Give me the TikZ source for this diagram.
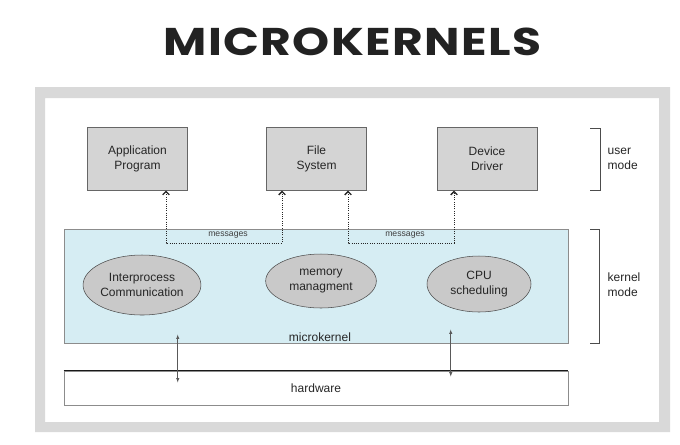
\documentclass[tikz,border=0pt]{standalone}
\usepackage{fontspec}
\setmainfont{Liberation Sans}
\newfontfamily\titlefont{Poppins}[LetterSpace=3]
\usetikzlibrary{arrows.meta,positioning,calc,shapes.geometric}

\definecolor{framegray}{HTML}{D9D9D9}
\definecolor{boxgray}{HTML}{D4D4D4}
\definecolor{ellgray}{HTML}{C9C9C9}
\definecolor{kernelblue}{HTML}{D6EDF3}
\definecolor{titleink}{HTML}{222222}

\begin{document}
\begin{tikzpicture}[x=0.75pt,y=-0.75pt,
    txt/.style={font=\fontsize{9pt}{11pt}\selectfont,align=center,text=black!85},
    userbox/.style={txt,draw=black!60,fill=boxgray,inner sep=0pt,minimum width=75pt,minimum height=47pt},
    service/.style={txt,ellipse,draw=black!70,fill=ellgray,inner sep=0pt},
    msg/.style={densely dotted,black!85,line width=.7pt,{Straight Barb[length=2.5pt,width=5pt,line width=1pt]}-{Straight Barb[length=2.5pt,width=5pt,line width=1pt]}},
    msglbl/.style={font=\fontsize{6.5pt}{7pt}\selectfont,text=black!75},
    hwarrow/.style={black!65,line width=.6pt,{Latex[length=3.5pt,width=2.5pt]}-{Latex[length=3.5pt,width=2.5pt]}},
    modebrace/.style={black!70,line width=.6pt},
    modelbl/.style={txt,align=left,anchor=west}]

        \useasboundingbox (0,0) rectangle (680,444);
        \fill[white] (0,0) rectangle (680,444);

        \node[anchor=base,text=titleink,xscale=1.22,transform shape,font=\titlefont\bfseries\fontsize{29pt}{30pt}\selectfont] (title) at (352.5,55) {MICROKERNELS};

        \fill[framegray,even odd rule] (35,87) rectangle (670,432) (45,98) rectangle (659,422);

        \node[userbox] (app) at (137.5,159) {Application\\Program};
        \node[userbox] (fs) at (316.5,159) {File\\System};
        \node[userbox] (dev) at (487,159) {Device\\Driver};

        \node[txt,draw=black!45,fill=kernelblue,minimum width=378pt,minimum height=85.5pt,inner sep=0pt] (micro) at (316,286) {};
        \node[txt,draw=black!45,fill=white,minimum width=378pt,minimum height=25.5pt,inner sep=0pt] (hw) at (316,388) {hardware};
        \draw[black!90] (hw.north west) -- (hw.north east);

        \node[service,minimum width=82.5pt,minimum height=45pt] (ipc) at (142,285) {Interprocess\\Communication};
        \node[service,minimum width=83pt,minimum height=40.5pt] (mem) at (321,281) {memory\\managment};
        \node[service,minimum width=78pt,minimum height=42pt] (cpu) at (479,284) {CPU\\scheduling};
        \node[txt] (mklbl) at (320,337) {microkernel};

        \coordinate (mrow) at (0,243);
        \coordinate (appmsg) at ($(app.south)+(28.5,0)$);
        \coordinate (fsmsga) at ($(fs.south)+(-34.5,0)$);
        \coordinate (fsmsgb) at ($(fs.south)+(31.5,0)$);
        \coordinate (devmsg) at ($(dev.south)+(-33,0)$);
        \draw[msg] (appmsg) -- (appmsg |- mrow) -- (fsmsga |- mrow) -- (fsmsga);
        \draw[msg] (fsmsgb) -- (fsmsgb |- mrow) -- (devmsg |- mrow) -- (devmsg);
        \node[msglbl] (msga) at (228,235.5) {messages};
        \node[msglbl] (msgb) at (405,235.5) {messages};

        \draw[hwarrow] ($(micro.south west)+(114,-9)$) -- ($(hw.north west)+(114,12)$);
        \draw[hwarrow] ($(micro.south west)+(387,-14)$) -- ($(hw.north west)+(387,6)$);

        \draw[modebrace] (590,128) -- (600,128) -- (600,190) -- (590,190);
        \draw[modebrace] (590,229) -- (599,229) -- (599,343) -- (590,343);
        \node[modelbl] (user) at (603,159) {user\\mode};
        \node[modelbl] (kernel) at (603,285) {kernel\\mode};

\end{tikzpicture}
\end{document}
